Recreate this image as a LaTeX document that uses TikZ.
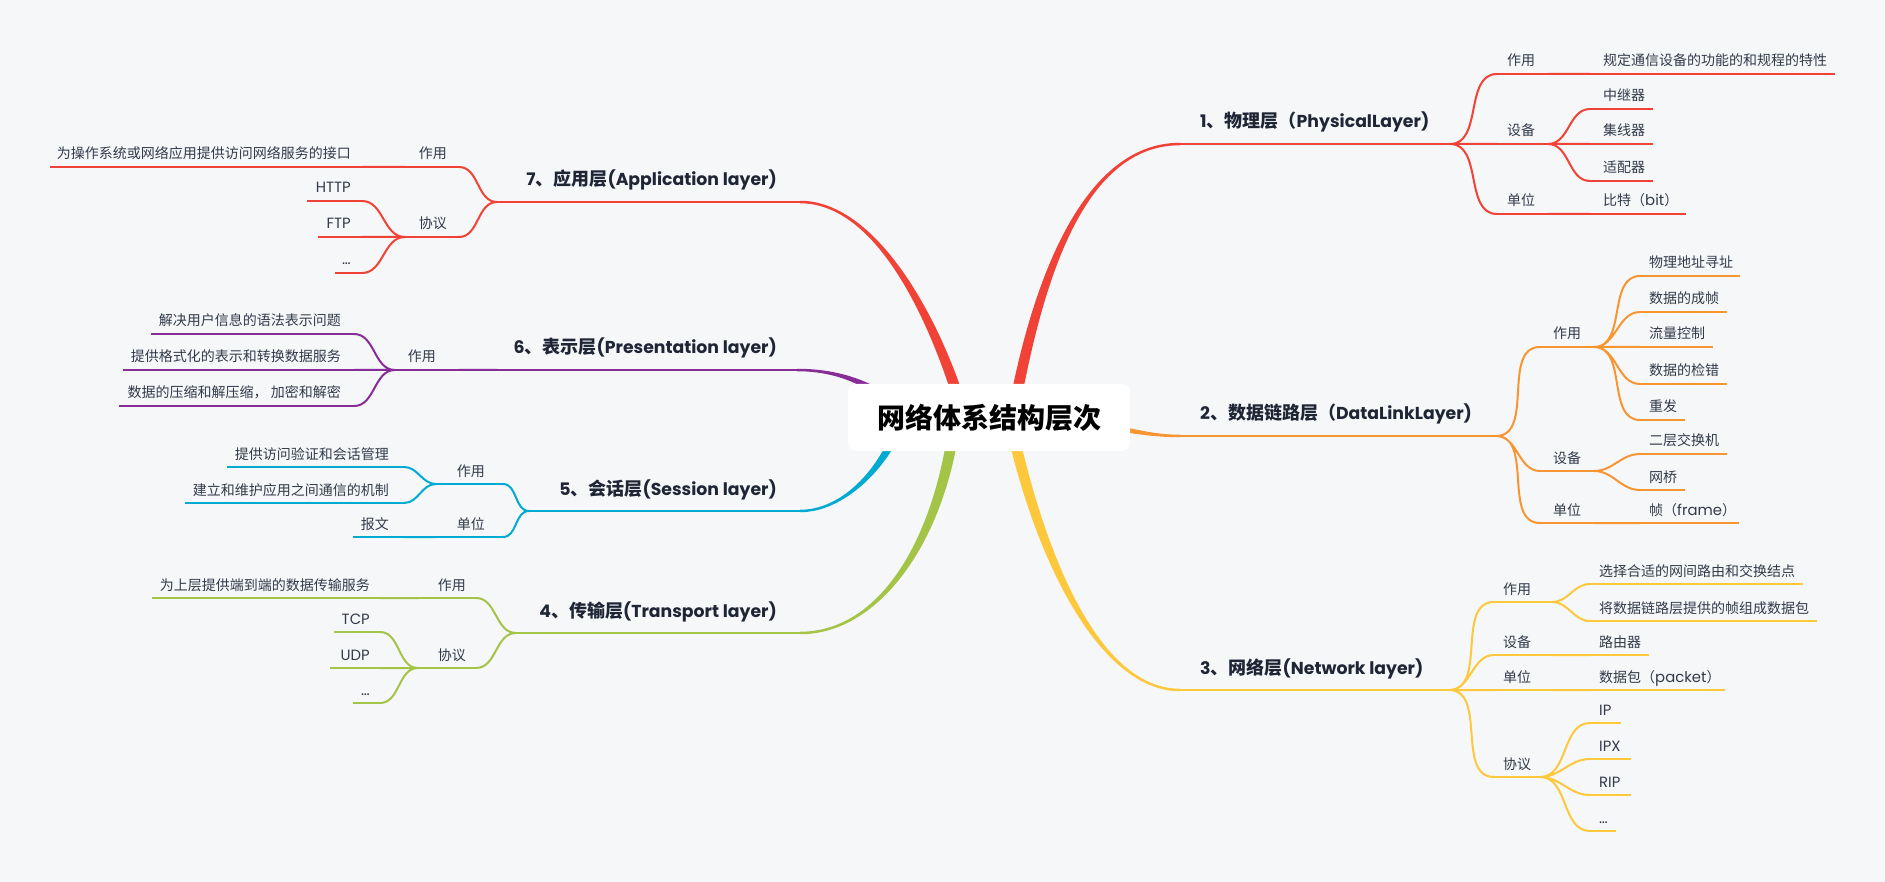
\documentclass[tikz,border=0pt]{standalone}
\usepackage{fontspec}
\setmainfont{Noto Sans CJK SC}
\newfontfamily\enfont{Poppins}[UprightFeatures={Scale=1.06},BoldFeatures={Scale=0.96}]
\newcommand\en[1]{{\enfont #1}}
\usetikzlibrary{calc}
\definecolor{bgc}{RGB}{246,247,249}
\definecolor{cred}{RGB}{240,66,54}
\definecolor{corange}{RGB}{247,149,50}
\definecolor{cyellow}{RGB}{254,200,60}
\definecolor{cgreen}{RGB}{164,196,72}
\definecolor{ccyan}{RGB}{0,170,210}
\definecolor{cpurple}{RGB}{136,44,150}
\definecolor{ttlc}{RGB}{30,38,54}
\definecolor{txtc}{RGB}{50,58,74}
\tikzset{
 txt/.style={inner sep=0pt, text=txtc, font=\fontsize{14}{16}\selectfont},
 ttl/.style={inner sep=0pt, text=ttlc, font=\fontsize{18}{20}\selectfont\bfseries},
 rootbox/.style={fill=white, rounded corners=8pt, minimum width=282pt, minimum height=67pt, inner sep=0pt, font=\fontsize{28}{30}\selectfont\bfseries, text=black},
 lay/.style={line width=2.5pt},
 kid/.style={line width=2pt},
 conR/.style={out=0,in=180},
 conL/.style={out=180,in=0},
}
% tapered main branch: color, P0, P1, P2, P3, half width start, half width end
\newcommand\mainbranch[7]{%
 \fill[#1] ($#2!#6!90:#3$) .. controls ($#3!#6!-90:#2$) and ($#4!#7!90:#5$) .. ($#5!#7!-90:#4$)
  -- ($#5!#7!90:#4$) .. controls ($#4!#7!-90:#5$) and ($#3!#6!90:#2$) .. ($#2!#6!-90:#3$) -- cycle;}
% leaf: name, style, xnear, xfar, y, anchor side, text x, text
\newcommand\leaf[8]{%
 \coordinate (#1n) at (#3,#5);
 \coordinate (#1f) at (#4,#5);
 \draw[#2] (#1n) -- (#1f);
 \node[txt,anchor=base #6] (#1) at (#7,#5-8) {#8};}
\begin{document}
\begin{tikzpicture}[x=1pt,y=-1pt]
\fill[bgc] (0,0) rectangle (1885,882);
\useasboundingbox (0,0) rectangle (1885,882);

% layer underline coordinates
\coordinate (t1n) at (1180,144); \coordinate (t1f) at (1450,144);
\coordinate (t2n) at (1180,436); \coordinate (t2f) at (1496,436);
\coordinate (t3n) at (1180,690); \coordinate (t3f) at (1449,690);
\coordinate (t7n) at (800,202);  \coordinate (t7f) at (497,202);
\coordinate (t6n) at (797,370);  \coordinate (t6f) at (497,370);
\coordinate (t5n) at (800,511);  \coordinate (t5f) at (529,511);
\coordinate (t4n) at (800,633);  \coordinate (t4f) at (516,633);

% main branch start points (under the root box)
\coordinate (m1) at (1012,420);
\coordinate (m2) at (1060,420);
\coordinate (m3) at (1010,420);
\coordinate (m4) at (955,420);
\coordinate (m5) at (900,420);
\coordinate (m6) at (910,420);
\coordinate (m7) at (965,420);

\mainbranch{cred}{(m1)}{(1035,290)}{(1080,144)}{(t1n)}{5.5pt}{1.25pt}
\mainbranch{corange}{(m2)}{(1110,424)}{(1140,436)}{(t2n)}{4pt}{1.25pt}
\mainbranch{cyellow}{(m3)}{(1040,560)}{(1100,690)}{(t3n)}{5.5pt}{1.25pt}
\mainbranch{cgreen}{(m4)}{(940,540)}{(880,633)}{(t4n)}{5.5pt}{1.25pt}
\mainbranch{ccyan}{(m5)}{(892,455)}{(850,511)}{(t5n)}{4.5pt}{1.25pt}
\mainbranch{cpurple}{(m6)}{(880,385)}{(840,370)}{(t6n)}{4.5pt}{1.25pt}
\mainbranch{cred}{(m7)}{(940,330)}{(880,202)}{(t7n)}{5.5pt}{1.25pt}

\node[rootbox] (root) at (989,417.5) {网络体系结构层次};

% layer underlines and titles
\draw[lay,cred] (t1n) -- (t1f);
\draw[lay,corange] (t2n) -- (t2f);
\draw[lay,cyellow] (t3n) -- (t3f);
\draw[lay,cred] (t7n) -- (t7f);
\draw[lay,cpurple] (t6n) -- (t6f);
\draw[lay,ccyan] (t5n) -- (t5f);
\draw[lay,cgreen] (t4n) -- (t4f);
\node[ttl,anchor=base west] (t1) at (1200,128) {\en{1}、物理层（\en{PhysicalLayer)}};
\node[ttl,anchor=base west] (t2) at (1200,420) {\en{2}、数据链路层（\en{DataLinkLayer)}};
\node[ttl,anchor=base west] (t3) at (1200,674) {\en{3}、网络层\en{(Network layer)}};
\node[ttl,anchor=base east] (t7) at (777,186) {\en{7}、应用层\en{(Application layer)}};
\node[ttl,anchor=base east] (t6) at (777,354) {\en{6}、表示层\en{(Presentation layer)}};
\node[ttl,anchor=base east] (t5) at (777,495) {\en{5}、会话层\en{(Session layer)}};
\node[ttl,anchor=base east] (t4) at (777,617) {\en{4}、传输层\en{(Transport layer)}};

% ---------- layer 1 ----------
\leaf{a1}{kid,cred}{1497}{1548}{74}{west}{1507}{作用}
\leaf{a1x}{kid,cred}{1590}{1835}{74}{west}{1603}{规定通信设备的功能的和规程的特性}
\leaf{b1}{kid,cred}{1497}{1548}{144}{west}{1507}{设备}
\leaf{b1x}{kid,cred}{1590}{1653}{109}{west}{1603}{中继器}
\leaf{b1y}{kid,cred}{1590}{1653}{144}{west}{1603}{集线器}
\leaf{b1z}{kid,cred}{1590}{1653}{181}{west}{1603}{适配器}
\leaf{c1}{kid,cred}{1497}{1548}{214}{west}{1507}{单位}
\leaf{c1x}{kid,cred}{1590}{1686}{214}{west}{1603}{比特（\en{bit}）}
\draw[kid,cred] (t1f) to[conR] (a1n) (t1f) to[conR] (b1n) (t1f) to[conR] (c1n)
  (a1f) to[conR] (a1xn)
  (b1f) to[conR] (b1xn) (b1f) to[conR] (b1yn) (b1f) to[conR] (b1zn)
  (c1f) to[conR] (c1xn);

% ---------- layer 2 ----------
\leaf{a2}{kid,corange}{1540}{1594}{347}{west}{1553}{作用}
\leaf{a2p}{kid,corange}{1640}{1740}{276}{west}{1649}{物理地址寻址}
\leaf{a2q}{kid,corange}{1640}{1727}{312}{west}{1649}{数据的成帧}
\leaf{a2r}{kid,corange}{1640}{1713}{347}{west}{1649}{流量控制}
\leaf{a2s}{kid,corange}{1640}{1727}{384}{west}{1649}{数据的检错}
\leaf{a2t}{kid,corange}{1640}{1685}{420}{west}{1649}{重发}
\leaf{b2}{kid,corange}{1540}{1594}{471}{west}{1553}{设备}
\leaf{b2p}{kid,corange}{1640}{1727}{454}{west}{1649}{二层交换机}
\leaf{b2q}{kid,corange}{1640}{1685}{490}{west}{1649}{网桥}
\leaf{c2}{kid,corange}{1540}{1594}{523}{west}{1553}{单位}
\leaf{c2p}{kid,corange}{1640}{1739}{523}{west}{1649}{帧（\en{frame}）}
\draw[kid,corange] (t2f) to[conR] (a2n) (t2f) to[conR] (b2n) (t2f) to[conR] (c2n)
  (a2f) to[conR] (a2pn) (a2f) to[conR] (a2qn) (a2f) to[conR] (a2rn) (a2f) to[conR] (a2sn) (a2f) to[conR] (a2tn)
  (b2f) to[conR] (b2pn) (b2f) to[conR] (b2qn)
  (c2f) to[conR] (c2pn);

% ---------- layer 3 ----------
\leaf{a3}{kid,cyellow}{1494}{1552}{602}{west}{1503}{作用}
\leaf{a3p}{kid,cyellow}{1590}{1803}{584}{west}{1599}{选择合适的网间路由和交换结点}
\leaf{a3q}{kid,cyellow}{1590}{1817}{621}{west}{1599}{将数据链路层提供的帧组成数据包}
\leaf{b3}{kid,cyellow}{1494}{1552}{655}{west}{1503}{设备}
\leaf{b3p}{kid,cyellow}{1590}{1649}{655}{west}{1599}{路由器}
\leaf{c3}{kid,cyellow}{1494}{1552}{690}{west}{1503}{单位}
\leaf{c3p}{kid,cyellow}{1590}{1725}{690}{west}{1599}{数据包（\en{packet}）}
\leaf{d3}{kid,cyellow}{1494}{1540}{777}{west}{1503}{协议}
\leaf{d3p}{kid,cyellow}{1590}{1621}{723}{west}{1599}{\en{IP}}
\leaf{d3q}{kid,cyellow}{1590}{1631}{759}{west}{1599}{\en{IPX}}
\leaf{d3r}{kid,cyellow}{1590}{1631}{795}{west}{1599}{\en{RIP}}
\leaf{d3s}{kid,cyellow}{1590}{1616}{831}{west}{1599}{\en{…}}
\draw[kid,cyellow] (t3f) to[conR] (a3n) (t3f) to[conR] (b3n) (t3f) to[conR] (c3n) (t3f) to[conR] (d3n)
  (a3f) to[conR] (a3pn) (a3f) to[conR] (a3qn)
  (b3f) to[conR] (b3pn)
  (c3f) to[conR] (c3pn)
  (d3f) to[conR] (d3pn) (d3f) to[conR] (d3qn) (d3f) to[conR] (d3rn) (d3f) to[conR] (d3sn);

% ---------- layer 7 ----------
\leaf{a7}{kid,cred}{459}{405}{167}{east}{447}{作用}
\leaf{a7p}{kid,cred}{362}{50}{167}{east}{351}{为操作系统或网络应用提供访问网络服务的接口}
\leaf{b7}{kid,cred}{459}{405}{237}{east}{447}{协议}
\leaf{b7p}{kid,cred}{362}{307}{201}{east}{351}{\en{HTTP}}
\leaf{b7q}{kid,cred}{362}{318}{237}{east}{351}{\en{FTP}}
\leaf{b7r}{kid,cred}{362}{335}{273}{east}{351}{\en{…}}
\draw[kid,cred] (t7f) to[conL] (a7n) (t7f) to[conL] (b7n)
  (a7f) to[conL] (a7pn)
  (b7f) to[conL] (b7pn) (b7f) to[conL] (b7qn) (b7f) to[conL] (b7rn);

% ---------- layer 6 ----------
\leaf{a6}{kid,cpurple}{459}{395}{370}{east}{436}{作用}
\leaf{a6p}{kid,cpurple}{354}{151}{334}{east}{341}{解决用户信息的语法表示问题}
\leaf{a6q}{kid,cpurple}{354}{123}{370}{east}{341}{提供格式化的表示和转换数据服务}
\leaf{a6r}{kid,cpurple}{354}{119}{406}{east}{341}{数据的压缩和解压缩， 加密和解密}
\draw[kid,cpurple] (t6f) to[conL] (a6n)
  (a6f) to[conL] (a6pn) (a6f) to[conL] (a6qn) (a6f) to[conL] (a6rn);

% ---------- layer 5 ----------
\leaf{a5}{kid,ccyan}{503}{436}{484}{east}{485}{作用}
\leaf{a5p}{kid,ccyan}{404}{227}{467}{east}{389}{提供访问验证和会话管理}
\leaf{a5q}{kid,ccyan}{404}{185}{503}{east}{389}{建立和维护应用之间通信的机制}
\leaf{b5}{kid,ccyan}{503}{436}{537}{east}{485}{单位}
\leaf{b5p}{kid,ccyan}{404}{353}{537}{east}{389}{报文}
\draw[kid,ccyan] (t5f) to[conL] (a5n) (t5f) to[conL] (b5n)
  (a5f) to[conL] (a5pn) (a5f) to[conL] (a5qn)
  (b5f) to[conL] (b5pn);

% ---------- layer 4 ----------
\leaf{a4}{kid,cgreen}{476}{418}{598}{east}{466}{作用}
\leaf{a4p}{kid,cgreen}{380}{152}{598}{east}{370}{为上层提供端到端的数据传输服务}
\leaf{b4}{kid,cgreen}{476}{418}{668}{east}{466}{协议}
\leaf{b4p}{kid,cgreen}{380}{334}{632}{east}{370}{\en{TCP}}
\leaf{b4q}{kid,cgreen}{380}{330}{668}{east}{370}{\en{UDP}}
\leaf{b4r}{kid,cgreen}{380}{353}{703}{east}{370}{\en{…}}
\draw[kid,cgreen] (t4f) to[conL] (a4n) (t4f) to[conL] (b4n)
  (a4f) to[conL] (a4pn)
  (b4f) to[conL] (b4pn) (b4f) to[conL] (b4qn) (b4f) to[conL] (b4rn);
\end{tikzpicture}
\end{document}
